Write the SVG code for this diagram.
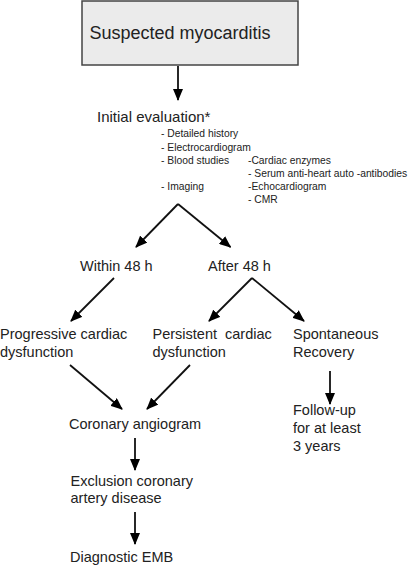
<svg xmlns="http://www.w3.org/2000/svg" width="412" height="565" viewBox="0 0 412 565">
<style>
text{font-family:"Liberation Sans",Arial,sans-serif;fill:#222}
.m{font-size:14.5px}
.s{font-size:10.3px}
.t{font-size:18px}
.c line{stroke:#111;stroke-width:1.8;marker-end:url(#ah)}
</style>
<defs>
<marker id="ah" markerUnits="userSpaceOnUse" markerWidth="12" markerHeight="10" refX="11" refY="5" orient="auto" viewBox="0 0 12 10">
<path d="M0,0 L12,5 L0,10 z" fill="#000"/>
</marker>
</defs>
<g id="n-suspected">
<rect x="82" y="1" width="216" height="64" fill="#ebebeb" stroke="#444" stroke-width="1.5"/>
<text class="t" x="180" y="39" text-anchor="middle">Suspected myocarditis</text>
</g>
<g id="n-initial">
<text x="97" y="122" style="font-size:15px">Initial evaluation*</text>
<text class="s" x="161" y="136.5">- Detailed history</text>
<text class="s" x="161" y="150.5">- Electrocardiogram</text>
<text class="s" x="161" y="163.5">- Blood studies</text>
<text class="s" x="248" y="163.5">-Cardiac enzymes</text>
<text class="s" x="248" y="176.5">- Serum anti-heart auto -antibodies</text>
<text class="s" x="161" y="189.5">- Imaging</text>
<text class="s" x="248" y="189.5">-Echocardiogram</text>
<text class="s" x="248" y="202.5">- CMR</text>
</g>
<g id="n-within"><text class="m" x="80" y="270.5">Within 48 h</text></g>
<g id="n-after"><text class="m" x="208" y="270.5">After 48 h</text></g>
<g id="n-progressive"><text class="m" x="0" y="338.5">Progressive cardiac</text><text class="m" x="0" y="356.5">dysfunction</text></g>
<g id="n-persistent"><text class="m" x="152.5" y="338.5" xml:space="preserve">Persistent  cardiac</text><text class="m" x="152.5" y="356.5">dysfunction</text></g>
<g id="n-spontaneous"><text class="m" x="293" y="338.5">Spontaneous</text><text class="m" x="293" y="356.5">Recovery</text></g>
<g id="n-followup"><text class="m" x="293" y="415">Follow-up</text><text class="m" x="293" y="433">for at least</text><text class="m" x="293" y="451">3 years</text></g>
<g id="n-coronary"><text class="m" x="69" y="429">Coronary angiogram</text></g>
<g id="n-exclusion"><text class="m" x="70.5" y="486">Exclusion coronary</text><text class="m" x="70.5" y="503">artery disease</text></g>
<g id="n-emb"><text class="m" x="70" y="562">Diagnostic EMB</text></g>
<g id="connectors" class="c">
<line x1="178" y1="66" x2="178" y2="100"/>
<line x1="178" y1="204" x2="136" y2="247"/>
<line x1="178" y1="204" x2="230.5" y2="247"/>
<line x1="114" y1="278" x2="71" y2="321"/>
<line x1="252" y1="278" x2="209" y2="321"/>
<line x1="252" y1="278" x2="304" y2="321"/>
<line x1="70" y1="365" x2="122" y2="409"/>
<line x1="190" y1="365" x2="147" y2="409"/>
<line x1="330" y1="371" x2="330" y2="404"/>
<line x1="135" y1="438" x2="135" y2="470"/>
<line x1="135" y1="512" x2="135" y2="544"/>
</g>
</svg>
